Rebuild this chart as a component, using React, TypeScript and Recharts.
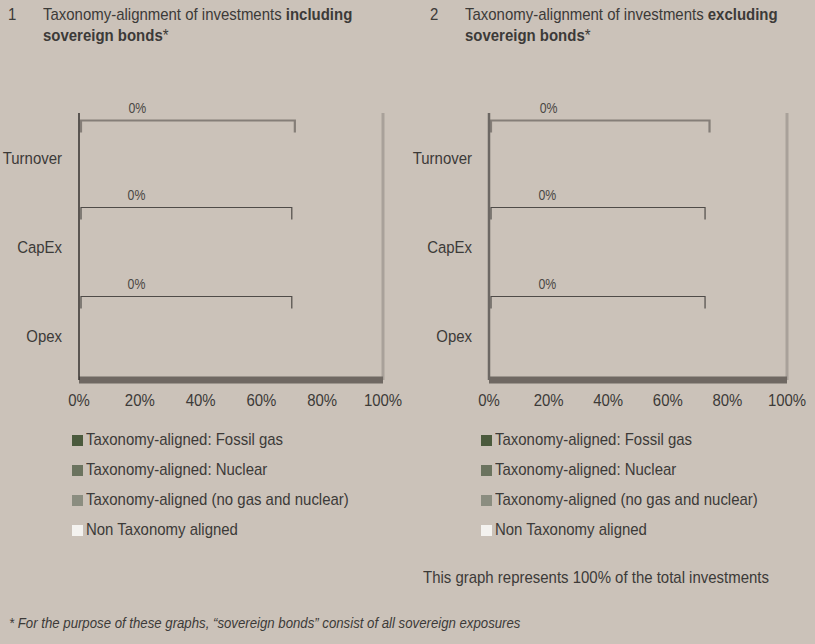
import React from 'react';
import { BarChart, Bar, XAxis, YAxis, ReferenceLine } from 'recharts';

// categories and series (all taxonomy-aligned shares are 0%)
const categories = ['Turnover', 'CapEx', 'Opex'];
const inclFossilGas = [0, 0, 0];
const inclNuclear = [0, 0, 0];
const inclOther = [0, 0, 0];
const inclNonAligned = [0, 0, 0];
const inclBracket = [71, 70, 70];

const exclFossilGas = [0, 0, 0];
const exclNuclear = [0, 0, 0];
const exclOther = [0, 0, 0];
const exclNonAligned = [0, 0, 0];
const exclBracket = [74, 72.5, 72.5];

const xTicks = [0, 20, 40, 60, 80, 100];

const seriesNames = [
  'Taxonomy-aligned: Fossil gas',
  'Taxonomy-aligned: Nuclear',
  'Taxonomy-aligned (no gas and nuclear)',
  'Non Taxonomy aligned'
];
const seriesKeys = ['fossilGas', 'nuclear', 'other', 'nonAligned'];
const seriesColors = ['#4b5a3d', '#6b735f', '#8b8d80', '#f4f2ef'];

const FONT = '"Liberation Sans", Arial, sans-serif';
const TEXT = '#3c3a38';
const BG = '#cbc2b9';
const NARROW = 0.88;

const buildData = (fg: number[], nu: number[], ot: number[], na: number[], br: number[]) =>
  categories.map((category, i) => ({
    category,
    fossilGas: fg[i],
    nuclear: nu[i],
    other: ot[i],
    nonAligned: na[i],
    bracket: br[i],
    aligned: fg[i] + nu[i] + ot[i]
  }));

// condensed text, the source uses a narrow sans
const Narrow = ({ children, style }: { children: React.ReactNode; style?: React.CSSProperties }) => (
  <span
    style={{
      display: 'inline-block',
      whiteSpace: 'nowrap',
      transform: `scaleX(${NARROW})`,
      transformOrigin: 'left center',
      ...style
    }}
  >
    {children}
  </span>
);

const XTick = (props: any) => {
  const { x, y, payload } = props;
  return (
    <text
      transform={`translate(${x},${y}) scale(${NARROW},1)`}
      textAnchor="middle"
      dy="0.71em"
      fontFamily={FONT}
      fontSize={17}
      fill={TEXT}
    >
      {`${payload.value}%`}
    </text>
  );
};

const YTick = (props: any) => {
  const { x, y, payload } = props;
  return (
    <text
      transform={`translate(${x},${y}) scale(${NARROW},1)`}
      textAnchor="end"
      dy="0.355em"
      fontFamily={FONT}
      fontSize={17}
      fill={TEXT}
    >
      {payload.value}
    </text>
  );
};

const Bracket = (props: any) => {
  const { x, y, width, height, index, payload } = props;
  const first = index === 0;
  const top = y + height / 2 - (first ? 37 : 39);
  return (
    <g>
      <path
        d={`M${x + 2},${top + 12} V${top} H${x + width} V${top + 12}`}
        fill="none"
        stroke={first ? '#857e78' : '#4f4b48'}
        strokeWidth={first ? 2.2 : 1.2}
      />
      <text
        transform={`translate(${x + width * 0.27},${top - 8}) scale(${NARROW},1)`}
        textAnchor="middle"
        fontFamily={FONT}
        fontSize={14}
        fill="#4a4744"
      >
        {`${payload.aligned}%`}
      </text>
    </g>
  );
};

const AlignmentChart = ({
  data,
  left,
  width,
  axisColor,
  axisWidth
}: {
  data: any[];
  left: number;
  width: number;
  axisColor: string;
  axisWidth: number;
}) => (
  <div style={{ position: 'absolute', left, top: 0 }}>
    <BarChart
      width={width}
      height={420}
      data={data}
      layout="vertical"
      margin={{ top: 113, right: 37, left: 0, bottom: 10 }}
      barSize={13}
    >
      <XAxis
        type="number"
        domain={[0, 100]}
        ticks={xTicks}
        tickLine={false}
        tickSize={0}
        tickMargin={14}
        height={30}
        axisLine={{ stroke: '#6f6862', strokeWidth: 7 }}
        tick={<XTick />}
        interval={0}
      />
      <YAxis
        type="category"
        dataKey="category"
        width={79}
        tickLine={false}
        tickSize={0}
        tickMargin={17}
        axisLine={{ stroke: axisColor, strokeWidth: axisWidth }}
        tick={<YTick />}
      />
      <ReferenceLine x={100} stroke="#a9a19a" strokeWidth={3} />
      {seriesKeys.map((k, i) => (
        <Bar key={k} dataKey={k} stackId="a" fill={seriesColors[i]} isAnimationActive={false} />
      ))}
      <Bar dataKey="bracket" stackId="a" shape={<Bracket />} isAnimationActive={false} />
    </BarChart>
  </div>
);

const LegendBlock = ({ left }: { left: number }) => (
  <div style={{ position: 'absolute', left, top: 425 }}>
    {seriesNames.map((name, i) => (
      <div key={name} style={{ display: 'flex', alignItems: 'center', height: 30 }}>
        <div style={{ width: 11, height: 11, background: seriesColors[i], marginRight: 3 }} />
        <Narrow style={{ fontFamily: FONT, fontSize: 17, color: TEXT }}>{name}</Narrow>
      </div>
    ))}
  </div>
);

const Title = ({ left, num, bold }: { left: number; num: string; bold: string }) => (
  <div
    style={{
      position: 'absolute',
      left,
      top: 4,
      fontFamily: FONT,
      fontSize: 17,
      color: TEXT,
      lineHeight: '21px',
      display: 'flex'
    }}
  >
    <div style={{ width: 35 }}>
      <Narrow>{num}</Narrow>
    </div>
    <div>
      <Narrow>
        Taxonomy-alignment of investments <b>{bold}</b>
      </Narrow>
      <br />
      <Narrow>
        <b>sovereign bonds</b>*
      </Narrow>
    </div>
  </div>
);

export default function App() {
  const inclData = buildData(inclFossilGas, inclNuclear, inclOther, inclNonAligned, inclBracket);
  const exclData = buildData(exclFossilGas, exclNuclear, exclOther, exclNonAligned, exclBracket);
  return (
    <div
      style={{
        position: 'absolute',
        left: 0,
        top: 0,
        width: 815,
        height: 644,
        background: BG,
        overflow: 'hidden'
      }}
    >
      <Title left={8} num="1" bold="including" />
      <Title left={430} num="2" bold="excluding" />
      <AlignmentChart data={inclData} left={0} width={420} axisColor="#34312f" axisWidth={1.5} />
      <AlignmentChart data={exclData} left={410} width={414} axisColor="#6c6763" axisWidth={2.5} />
      <LegendBlock left={72} />
      <LegendBlock left={481} />
      <div style={{ position: 'absolute', left: 423, top: 568 }}>
        <Narrow style={{ fontFamily: FONT, fontSize: 17, color: TEXT }}>
          This graph represents 100% of the total investments
        </Narrow>
      </div>
      <div style={{ position: 'absolute', left: 9, top: 614 }}>
        <Narrow style={{ fontFamily: FONT, fontSize: 15, fontStyle: 'italic', color: TEXT }}>
          * For the purpose of these graphs, “sovereign bonds” consist of all sovereign exposures
        </Narrow>
      </div>
    </div>
  );
}
